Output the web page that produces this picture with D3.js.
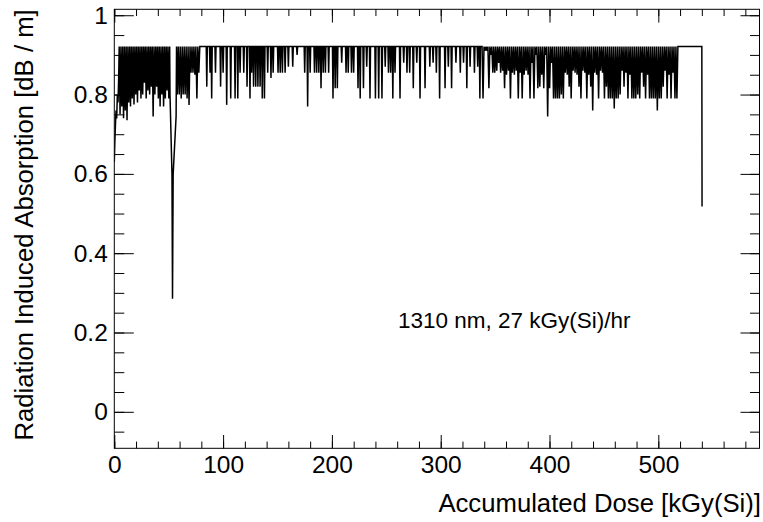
<!DOCTYPE html>
<html>
<head>
<meta charset="utf-8">
<script src="https://cdn.jsdelivr.net/npm/d3@7/dist/d3.min.js"></script>
<style>
  html, body { margin: 0; padding: 0; background: #fff; }
  svg text { font-family: "Liberation Sans", Arial, Helvetica, sans-serif; fill: #000; }
</style>
</head>
<body>
<div id="chart"></div>
<script>
// accumulated dose [kGy(Si)] vs radiation induced absorption [dB/m]
var rampStart = [[0, 0.63], [0.5, 0.68], [1.0, 0.72], [1.6, 0.76], [2.2, 0.74], [2.8, 0.80], [3.4, 0.78], [4.0, 0.84]];

var denseEarly = [[4.5,.921],[5.3,.75],[6.1,.921],[6.9,.77],[7.7,.921],[8.5,.74],[9.3,.921],[10.1,.76],[10.9,.921],[11.7,.735],
  [12.5,.921],[13.3,.78],[14.1,.921],[14.9,.77],[15.7,.921],[16.5,.79],[17.3,.921],[18.1,.775],[18.9,.921],[19.7,.80],
  [20.5,.921],[21.3,.78],[22.1,.921],[22.9,.81],[23.7,.921],[24.5,.79],[25.3,.921],[26.1,.80],[26.9,.921],[27.7,.83],
  [28.5,.921],[29.3,.79],[30.1,.921],[30.9,.81],[31.7,.921],[32.5,.80],[33.3,.921],[34.1,.82],[34.9,.921],[35.7,.745],
  [36.5,.921],[37.3,.80],[38.1,.921],[38.9,.82],[39.7,.921],[40.5,.79],[41.3,.921],[42.1,.77],[42.9,.921],[43.7,.80],
  [44.5,.921],[45.3,.77],[46.1,.921],[46.9,.79],[47.7,.921],[48.5,.81],[49.3,.921],[50.1,.79],[50.9,.921]];

var firstDip = [[51.2,.80],[53.0,.60],[53.5,.285],[54.1,.60],[56.8,.745]];

var denseMid = [[57.2,.921],[57.9,.80],[58.8,.921],[59.7,.80],[60.6,.921],[61.5,.79],[62.4,.921],[63.3,.80],[64.2,.921],
  [65.1,.80],[66.0,.921],[66.9,.79],[67.8,.921],[68.7,.774],[69.6,.921],[70.5,.855],[71.4,.921],[72.3,.855],[73.2,.921],
  [74.1,.85],[75.0,.921],[75.9,.79],[76.8,.921],[77.7,.855],[78.6,.921]];

var sparseDips = [
  [84.5,.921],[85,.82],[85.5,.921],[87.5,.921],[88,.855],[88.5,.921],[89,.921],[89.5,.79],[90,.921],
  [92.5,.921],[93,.855],[93.5,.921],[97.2,.921],[97.7,.82],[98.2,.921],[99.5,.921],[100,.855],[100.5,.921],
  [102.8,.921],[103.3,.774],[103.8,.921],[106.5,.921],[107,.79],[107.5,.921],[110.5,.921],[111,.79],[111.5,.921],
  [113,.921],[113.5,.79],[114,.921],[115.1,.921],[115.6,.855],[116.1,.921],[118.5,.921],[119,.855],[119.5,.921],
  [121.5,.921],[122,.82],[122.5,.921],[124.2,.921],[124.7,.79],[125.2,.921],[125.7,.921],[126.2,.855],[126.7,.921],
  [127.5,.921],[128,.82],[128.5,.921],[129.5,.921],[130,.82],[130.5,.921],[131.5,.921],[132,.82],[132.5,.921],
  [133.5,.921],[134,.82],[134.5,.921],[135.5,.921],[136,.79],[136.5,.921],[137.5,.921],[138,.79],[138.5,.921],
  [140.5,.921],[141,.855],[141.5,.921],[143.5,.921],[144,.842],[144.5,.921],[145.5,.921],[146,.855],[146.5,.921],
  [150,.921],[150.5,.855],[151,.921],[152,.921],[152.5,.855],[153,.921],[154,.921],[154.5,.855],[155,.921],
  [156.5,.921],[157,.855],[157.5,.921],[159.5,.921],[160,.87],[160.5,.921],[163.5,.921],[164,.87],[164.5,.921],
  [167.5,.921],[168,.90],[168.5,.921],[174.5,.921],[175,.855],[175.5,.921],[177.2,.921],[177.7,.77],[178.2,.921],
  [179.5,.921],[180,.855],[180.5,.921],[183.5,.921],[184,.855],[184.5,.921],[185.5,.921],[186,.855],[186.5,.921],
  [187.5,.921],[188,.855],[188.5,.921],[189.5,.921],[190,.816],[190.5,.921],[191.5,.921],[192,.855],[192.5,.921],
  [193.5,.921],[194,.855],[194.5,.921],[196.5,.921],[197,.855],[197.5,.921],[200.5,.921],[201,.79],[201.5,.921],
  [202.5,.921],[203,.816],[203.5,.921],[204.5,.921],[205,.816],[205.5,.921],[208.5,.921],[209,.88],[209.5,.921],
  [212.5,.921],[213,.855],[213.5,.921],[214.5,.921],[215,.855],[215.5,.921],[217.5,.921],[218,.855],[218.5,.921],
  [219.5,.921],[220,.855],[220.5,.921],[223.5,.921],[224,.816],[224.5,.921],[225.5,.921],[226,.79],[226.5,.921],
  [228.5,.921],[229,.816],[229.5,.921],[231.5,.921],[232,.87],[232.5,.921],[234.5,.921],[235,.79],[235.5,.921],
  [239.5,.921],[240,.79],[240.5,.921],[242.5,.921],[243,.79],[243.5,.921],[245.5,.921],[246,.79],[246.5,.921],
  [248.5,.921],[249,.87],[249.5,.921],[251.5,.921],[252,.855],[252.5,.921],[253.5,.921],[254,.855],[254.5,.921],
  [255.5,.921],[256,.79],[256.5,.921],[257.5,.921],[258,.855],[258.5,.921],[262.1,.921],[262.6,.79],[263.1,.921],
  [265.5,.921],[266,.88],[266.5,.921],[268.5,.921],[269,.855],[269.5,.921],[271,.921],[271.5,.855],[272,.921],
  [274.3,.921],[274.8,.816],[275.3,.921],[277.5,.921],[278,.88],[278.5,.921],[280.5,.921],[281,.79],[281.5,.921],
  [285.1,.921],[285.6,.816],[286.1,.921],[289.5,.921],[290,.87],[290.5,.921],[292.5,.921],[293,.88],[293.5,.921],
  [295.5,.921],[296,.855],[296.5,.921],[298.5,.921],[299,.79],[299.5,.921],[303.5,.921],[304,.816],[304.5,.921],
  [306.5,.921],[307,.87],[307.5,.921],[309.5,.921],[310,.816],[310.5,.921],[313.5,.921],[314,.88],[314.5,.921],
  [317.5,.921],[318,.855],[318.5,.921],[320.5,.921],[321,.88],[321.5,.921],[323.5,.921],[324,.816],[324.5,.921],
  [326.5,.921],[327,.87],[327.5,.921],[330.5,.921],[331,.855],[331.5,.921],[333.5,.921],[334,.87],[334.5,.921],
  [335.5,.921],[336,.79],[336.5,.921]];

var denseLate = [[338.0,.921],[338.9,.79],[339.8,.921],[340.7,.91],[341.6,.921],[342.5,.91],[343.4,.921],[344.3,.816],
  [345.2,.921],[346.1,.90],[347.0,.921],[347.9,.855],[348.8,.921],[349.7,.855],[350.6,.921],[351.5,.86],[352.4,.921],
  [353.3,.88],[354.2,.921],[355.1,.855],[356.0,.921],[356.9,.86],[357.8,.921],[358.7,.816],[359.6,.921],[360.5,.85],
  [361.4,.921],[362.3,.86],[363.2,.921],[364.1,.79],[365.0,.921],[365.9,.855],[366.8,.921],[367.7,.85],[368.6,.921],
  [369.5,.86],[370.4,.921],[371.3,.79],[372.2,.921],[373.1,.855],[374.0,.921],[374.9,.79],[375.8,.921],[376.7,.85],
  [377.6,.921],[378.5,.86],[379.4,.921],[380.3,.85],[381.2,.921],[382.1,.79],[383.0,.921],[383.9,.88],[384.8,.921],
  [385.7,.79],[386.6,.921],[387.5,.90],[388.4,.921],[389.3,.816],[390.2,.921],[391.1,.82],[392.0,.921],[392.9,.85],
  [393.8,.921],[394.7,.816],[395.6,.921],[396.5,.90],[397.4,.921],[398.3,.745],[399.2,.921],[400.1,.816],[401.0,.921],
  [401.9,.88],[402.8,.921],[403.7,.79],[404.6,.921],[405.5,.79],[406.4,.921],[407.3,.79],[408.2,.921],[409.1,.79],
  [410.0,.921],[410.9,.80],[411.8,.921],[412.7,.79],[413.6,.921],[414.5,.855],[415.4,.921],[416.3,.85],[417.2,.921],
  [418.1,.82],[419.0,.921],[419.9,.79],[420.8,.921],[421.7,.86],[422.6,.921],[423.5,.855],[424.4,.921],[425.3,.85],
  [426.2,.921],[427.1,.82],[428.0,.921],[428.9,.79],[429.8,.921],[430.7,.86],[431.6,.921],[432.5,.855],[433.4,.921],
  [434.3,.79],[435.2,.921],[436.1,.85],[437.0,.921],[437.9,.82],[438.8,.921],[439.7,.76],[440.6,.921],[441.5,.855],
  [442.4,.921],[443.3,.85],[444.2,.921],[445.1,.79],[446.0,.921],[446.9,.86],[447.8,.921],[448.7,.855],[449.6,.921],
  [450.5,.79],[451.4,.921],[452.3,.82],[453.2,.921],[454.1,.79],[455.0,.921],[455.9,.79],[456.8,.921],[457.7,.79],
  [458.6,.921],[459.5,.765],[460.4,.921],[461.3,.79],[462.2,.921],[463.1,.79],[464.0,.921],[464.9,.80],[465.8,.921],
  [466.7,.86],[467.6,.921],[468.5,.82],[469.4,.921],[470.3,.855],[471.2,.921],[472.1,.79],[473.0,.921],[473.9,.85],
  [474.8,.921],[475.7,.79],[476.6,.921],[477.5,.79],[478.4,.921],[479.3,.79],[480.2,.921],[481.1,.80],[482.0,.921],
  [482.9,.79],[483.8,.921],[484.7,.855],[485.6,.921],[486.5,.82],[487.4,.921],[488.3,.79],[489.2,.921],[490.1,.85],
  [491.0,.921],[491.9,.79],[492.8,.921],[493.7,.79],[494.6,.921],[495.5,.79],[496.4,.921],[497.3,.79],[498.2,.921],
  [499.1,.76],[500.0,.921],[500.9,.79],[501.8,.921],[502.7,.79],[503.6,.921],[504.5,.82],[505.4,.921],[506.3,.86],
  [507.2,.921],[508.1,.79],[509.0,.921],[509.9,.85],[510.8,.921],[511.7,.79],[512.6,.921],[513.5,.855],[514.4,.921],
  [515.3,.79],[516.2,.921],[517.1,.79],[518.0,.921]];

var tailEnd = [[540.0, .921], [540.2, .518]];

var xTicks = [0, 100, 200, 300, 400, 500];
var yTicks = [0, 0.2, 0.4, 0.6, 0.8, 1];
var xTitle = "Accumulated Dose [kGy(Si)]";
var yTitle = "Radiation Induced Absorption [dB / m]";
var note = "1310 nm, 27 kGy(Si)/hr";

var W = 763, H = 522;
var frame = { left: 114.3, right: 759.5, top: 9.3, bottom: 448.3 };
var labelSize = 24.5, titleSize = 25.7;

var svg = d3.select('#chart').append('svg')
    .attr('width', W)
    .attr('height', H);

var x = d3.scaleLinear().domain([0, 593]).range([frame.left, frame.right]);
var y = d3.scaleLinear().domain([-0.092, 1.015]).range([frame.bottom, frame.top]);

var points = [].concat(rampStart, denseEarly, firstDip, denseMid, sparseDips, denseLate, tailEnd);

svg.append('clipPath').attr('id', 'frameClip')
  .append('rect')
    .attr('x', frame.left).attr('y', frame.top)
    .attr('width', frame.right - frame.left).attr('height', frame.bottom - frame.top);

var line = d3.line()
    .x(function (d) { return x(d[0]); })
    .y(function (d) { return y(d[1]); });

svg.append('path')
    .datum(points)
    .attr('clip-path', 'url(#frameClip)')
    .attr('d', line)
    .attr('fill', 'none')
    .attr('stroke', '#000')
    .attr('stroke-width', 1.5)
    .attr('stroke-linejoin', 'miter')
    .attr('stroke-miterlimit', 2);

// ticks point inwards, like ROOT
function ticks(g) {
  g.select('.domain').remove();
  g.selectAll('.tick line').attr('stroke', '#000');
  g.selectAll('text').attr('font-size', labelSize);
}

var xMinor = d3.range(0, 593, 20);
var yMinor = d3.range(-0.05, 1.01, 0.05);

svg.append('g')
    .attr('transform', 'translate(0,' + frame.bottom + ')')
    .call(d3.axisBottom(x).tickValues(xMinor).tickSize(-6.7).tickFormat(''))
    .call(ticks);
svg.append('g')
    .attr('transform', 'translate(0,' + frame.bottom + ')')
    .call(d3.axisBottom(x).tickValues(xTicks).tickSize(-13.3).tickPadding(7.5).tickFormat(String))
    .call(ticks);
svg.append('g')
    .attr('transform', 'translate(0,' + frame.top + ')')
    .call(d3.axisTop(x).tickValues(xMinor).tickSize(-6.7).tickFormat(''))
    .call(ticks);
svg.append('g')
    .attr('transform', 'translate(0,' + frame.top + ')')
    .call(d3.axisTop(x).tickValues(xTicks).tickSize(-13.3).tickFormat(''))
    .call(ticks);

svg.append('g')
    .attr('transform', 'translate(' + frame.left + ',0)')
    .call(d3.axisLeft(y).tickValues(yMinor).tickSize(-10).tickFormat(''))
    .call(ticks);
svg.append('g')
    .attr('transform', 'translate(' + frame.left + ',0)')
    .call(d3.axisLeft(y).tickValues(yTicks).tickSize(-19.5).tickPadding(6.5).tickFormat(String))
    .call(ticks);
svg.append('g')
    .attr('transform', 'translate(' + frame.right + ',0)')
    .call(d3.axisRight(y).tickValues(yMinor).tickSize(-9.5).tickFormat(''))
    .call(ticks);
svg.append('g')
    .attr('transform', 'translate(' + frame.right + ',0)')
    .call(d3.axisRight(y).tickValues(yTicks).tickSize(-19).tickFormat(''))
    .call(ticks);

svg.append('rect')
    .attr('x', frame.left).attr('y', frame.top)
    .attr('width', frame.right - frame.left).attr('height', frame.bottom - frame.top)
    .attr('fill', 'none')
    .attr('stroke', '#000')
    .attr('stroke-width', 1);

svg.append('text')
    .attr('x', 761).attr('y', 512)
    .attr('text-anchor', 'end')
    .attr('font-size', titleSize)
    .text(xTitle);

svg.append('text')
    .attr('transform', 'translate(32.5,' + frame.top + ') rotate(-90)')
    .attr('text-anchor', 'end')
    .attr('font-size', titleSize)
    .text(yTitle);

svg.append('text')
    .attr('x', 398).attr('y', 328)
    .attr('font-size', 22.5)
    .text(note);
</script>
</body>
</html>
